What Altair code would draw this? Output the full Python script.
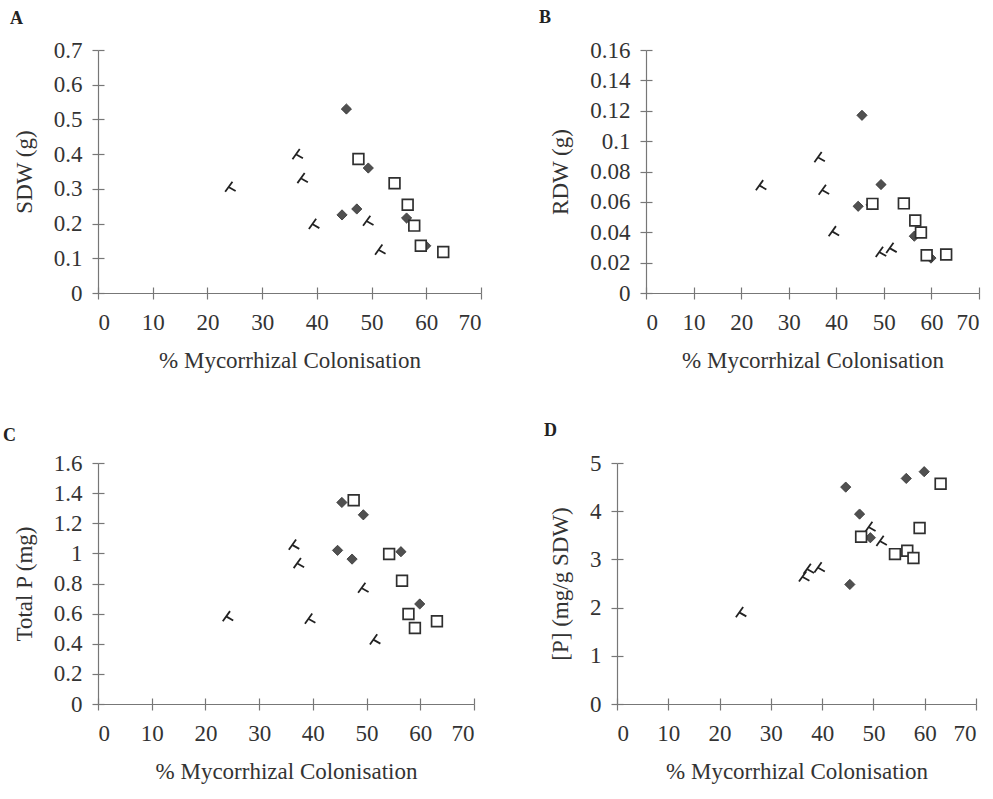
import altair as alt
import pandas as pd

# ---- data ----
x_ticks = [0, 10, 20, 30, 40, 50, 60, 70]

cross_x = [24.2, 36.5, 37.4, 39.5, 49.4, 51.6]
diamond_x = [44.6, 45.4, 47.3, 49.4, 56.4, 59.9]
square_x = [47.6, 54.2, 56.6, 57.8, 59.0, 63.1]

sdw_cross = [0.304, 0.398, 0.329, 0.197, 0.206, 0.123]
sdw_diamond = [0.225, 0.530, 0.242, 0.360, 0.216, 0.136]
sdw_square = [0.386, 0.316, 0.254, 0.194, 0.136, 0.118]
sdw_ticks = [0, 0.1, 0.2, 0.3, 0.4, 0.5, 0.6, 0.7]

rdw_cross = [0.0705, 0.089, 0.0675, 0.0402, 0.0266, 0.0292]
rdw_diamond = [0.0571, 0.117, 0.058, 0.0714, 0.0374, 0.023]
rdw_square = [0.0587, 0.059, 0.0477, 0.0398, 0.0248, 0.0253]
rdw_ticks = [0, 0.02, 0.04, 0.06, 0.08, 0.1, 0.12, 0.14, 0.16]

totp_cross = [0.578, 1.053, 0.931, 0.562, 0.767, 0.424]
totp_diamond = [1.02, 1.338, 0.962, 1.256, 1.011, 0.664]
totp_square = [1.353, 0.996, 0.818, 0.598, 0.504, 0.549]
totp_ticks = [0, 0.2, 0.4, 0.6, 0.8, 1, 1.2, 1.4, 1.6]

conc_cross = [1.89, 2.63, 2.79, 2.82, 3.66, 3.37]
conc_diamond = [4.50, 2.48, 3.94, 3.45, 4.68, 4.82]
conc_square = [3.47, 3.11, 3.18, 3.03, 3.65, 4.57]
conc_ticks = [0, 1, 2, 3, 4, 5]

X_TITLE = "% Mycorrhizal Colonisation"
FONT = "Liberation Serif"
TXT = "#333333"
CROSS_PATH = "M0.35,-1L-0.9,0.75M-0.25,-0.05L0.9,0.6"


def make_df(ys_cross, ys_diamond, ys_square):
    rows = []
    for xv, yv in zip(cross_x, ys_cross):
        rows.append({"x": xv, "y": yv, "s": "cross"})
    for xv, yv in zip(diamond_x, ys_diamond):
        rows.append({"x": xv, "y": yv, "s": "diamond"})
    for xv, yv in zip(square_x, ys_square):
        rows.append({"x": xv, "y": yv, "s": "square"})
    return pd.DataFrame(rows)


def panel(letter, df, ytitle, yticks, w, h, tdx, toff):
    ymax = yticks[-1]
    xs = alt.Scale(domain=[0, 70], nice=False)
    ys = alt.Scale(domain=[0, ymax], nice=False)
    common = dict(labelFont=FONT, titleFont=FONT, labelFontSize=23, titleFontSize=23,
                  labelColor=TXT, titleColor=TXT, titleFontWeight="normal",
                  domainColor="#777777", tickColor="#777777", domainWidth=1.2,
                  tickWidth=1.2, grid=False, tickSize=6)
    xaxis = alt.Axis(values=x_ticks, title=X_TITLE, labelPadding=12,
                     titlePadding=15, orient="bottom", **common)
    yaxis = alt.Axis(values=yticks, title=ytitle, format="~g",
                     labelPadding=10, titlePadding=17, orient="left", **common)
    base = alt.Chart(df)

    crosses = base.transform_filter(alt.datum.s == "cross").mark_point(
        shape=CROSS_PATH, size=135, filled=False, stroke="#222222", strokeWidth=1.8, opacity=1
    ).encode(x=alt.X("x:Q", scale=xs, axis=xaxis), y=alt.Y("y:Q", scale=ys, axis=yaxis))
    diamonds = base.transform_filter(alt.datum.s == "diamond").mark_point(
        shape="diamond", size=105, filled=True, fill="#505050", stroke="#333333",
        strokeWidth=0.8, opacity=1
    ).encode(x=alt.X("x:Q", axis=None), y=alt.Y("y:Q", axis=None))
    squares = base.transform_filter(alt.datum.s == "square").mark_point(
        shape="square", size=115, filled=True, fill="white", stroke="#2f2f2f",
        strokeWidth=1.7, opacity=1
    ).encode(x=alt.X("x:Q", axis=None), y=alt.Y("y:Q", axis=None))

    inner = base.mark_point(opacity=0).encode(
        x=alt.X("x:Q", scale=xs, axis=alt.Axis(values=x_ticks, orient="bottom", offset=-6,
                                              tickSize=6, labels=False, domain=False,
                                              tickColor="#777777", tickWidth=1.2,
                                              title=None, grid=False)),
        y=alt.Y("y:Q", scale=ys, axis=alt.Axis(values=yticks, orient="left", offset=-6,
                                              tickSize=6, labels=False, domain=False,
                                              tickColor="#777777", tickWidth=1.2,
                                              title=None, grid=False)),
    )

    return alt.layer(crosses, diamonds, squares, inner).resolve_axis(
        x="independent", y="independent"
    ).properties(
        width=w, height=h,
        title=alt.TitleParams(letter, anchor="start", frame="group", dx=tdx, offset=toff,
                              fontSize=18, font=FONT, fontWeight="bold", color="#222222"),
    )


pA = panel("A", make_df(sdw_cross, sdw_diamond, sdw_square), "SDW (g)", sdw_ticks, 383, 243, -88, 11)
pB = panel("B", make_df(rdw_cross, rdw_diamond, rdw_square), "RDW (g)", rdw_ticks, 333, 243, -107, 12)
pC = panel("C", make_df(totp_cross, totp_diamond, totp_square), "Total P (mg)", totp_ticks, 376, 241, -95, 7)
pD = panel("D", make_df(conc_cross, conc_diamond, conc_square), "[P] (mg/g SDW)", conc_ticks, 359, 241, -73, 12)

top = alt.hconcat(pA, pB, spacing=165, bounds="flush")
bottom = alt.hconcat(pC, pD, spacing=143, bounds="flush")

chart = alt.vconcat(top, bottom, spacing=413, bounds="flush").properties(
    padding={"left": 3, "top": 9, "right": 5, "bottom": 5},
    background="white",
).configure(font=FONT).configure_view(stroke=None)

chart.save("out.html", embed_options={"renderer": "svg", "actions": False})
